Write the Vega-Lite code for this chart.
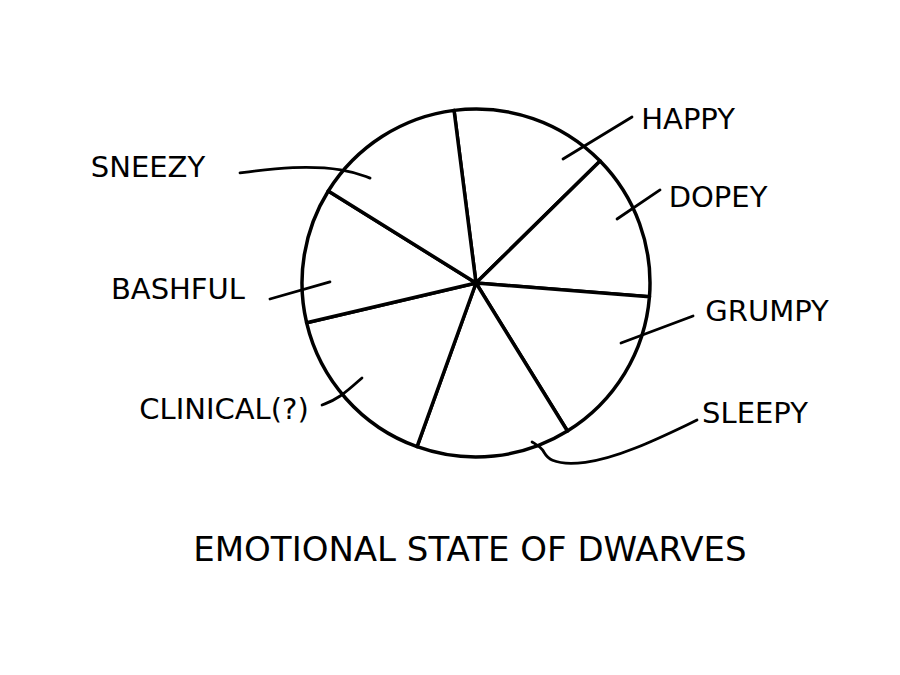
{
  "$schema": "https://vega.github.io/schema/vega-lite/v6.json",
  "width": 900,
  "height": 675,
  "autosize": "none",
  "padding": 0,
  "background": "white",
  "config": {"view": {"stroke": null}},
  "datasets": {
    "dwarves": [
      {"dwarf": "HAPPY", "order": 1, "share": 52.75, "lx": 1.233, "ly": 0.948},
      {"dwarf": "DOPEY", "order": 2, "share": 49.0, "lx": 1.407, "ly": 0.494},
      {"dwarf": "GRUMPY", "order": 3, "share": 53.8, "lx": 1.692, "ly": -0.169},
      {"dwarf": "SLEEPY", "order": 4, "share": 51.5, "lx": 1.622, "ly": -0.762},
      {"dwarf": "CLINICAL(?)", "order": 5, "share": 57.0, "lx": -1.465, "ly": -0.738},
      {"dwarf": "BASHFUL", "order": 6, "share": 45.1, "lx": -1.733, "ly": -0.041},
      {"dwarf": "SNEEZY", "order": 7, "share": 50.85, "lx": -1.907, "ly": 0.669}
    ],
    "leaders": [
      {"dwarf": "HAPPY", "seq": 1, "x": 0.506, "y": 0.721},
      {"dwarf": "HAPPY", "seq": 2, "x": 0.907, "y": 0.965},
      {"dwarf": "DOPEY", "seq": 1, "x": 0.820, "y": 0.372},
      {"dwarf": "DOPEY", "seq": 2, "x": 1.070, "y": 0.541},
      {"dwarf": "GRUMPY", "seq": 1, "x": 0.843, "y": -0.349},
      {"dwarf": "GRUMPY", "seq": 2, "x": 1.262, "y": -0.192},
      {"dwarf": "SLEEPY", "seq": 1, "x": 0.326, "y": -0.924},
      {"dwarf": "SLEEPY", "seq": 2, "x": 0.395, "y": -0.965},
      {"dwarf": "SLEEPY", "seq": 3, "x": 0.413, "y": -1.040},
      {"dwarf": "SLEEPY", "seq": 4, "x": 0.622, "y": -1.060},
      {"dwarf": "SLEEPY", "seq": 5, "x": 0.913, "y": -0.975},
      {"dwarf": "SLEEPY", "seq": 6, "x": 1.285, "y": -0.797},
      {"dwarf": "CLINICAL(?)", "seq": 1, "x": -0.663, "y": -0.552},
      {"dwarf": "CLINICAL(?)", "seq": 2, "x": -0.795, "y": -0.670},
      {"dwarf": "CLINICAL(?)", "seq": 3, "x": -0.895, "y": -0.709},
      {"dwarf": "BASHFUL", "seq": 1, "x": -0.849, "y": 0.006},
      {"dwarf": "BASHFUL", "seq": 2, "x": -1.198, "y": -0.093},
      {"dwarf": "SNEEZY", "seq": 1, "x": -0.616, "y": 0.610},
      {"dwarf": "SNEEZY", "seq": 2, "x": -0.760, "y": 0.665},
      {"dwarf": "SNEEZY", "seq": 3, "x": -1.064, "y": 0.680},
      {"dwarf": "SNEEZY", "seq": 4, "x": -1.372, "y": 0.640}
    ],
    "caption": [
      {"text": "EMOTIONAL STATE OF DWARVES", "x": -0.035, "y": -1.558}
    ]
  },
  "layer": [
    {
      "data": {"name": "dwarves"},
      "mark": {"type": "arc", "outerRadius": 174, "fill": "white", "stroke": "black", "strokeWidth": 3.5, "strokeJoin": "round"},
      "encoding": {
        "x": {"datum": 0, "type": "quantitative", "scale": {"domain": [-2.7674, 2.4651], "nice": false, "zero": false}, "axis": null},
        "y": {"datum": 0, "type": "quantitative", "scale": {"domain": [-2.2791, 1.6453], "nice": false, "zero": false}, "axis": null},
        "theta": {"field": "share", "type": "quantitative", "stack": true, "scale": {"range": [-0.1265, 6.1567]}},
        "order": {"field": "order", "type": "quantitative"}
      }
    },
    {
      "data": {"name": "leaders"},
      "mark": {"type": "line", "interpolate": "basis", "color": "black", "strokeWidth": 2.8, "strokeCap": "round"},
      "encoding": {
        "x": {"field": "x", "type": "quantitative", "axis": null},
        "y": {"field": "y", "type": "quantitative", "axis": null},
        "detail": {"field": "dwarf"},
        "order": {"field": "seq", "type": "quantitative"}
      }
    },
    {
      "data": {"name": "dwarves"},
      "mark": {"type": "text", "font": "DejaVu Sans", "fontSize": 29, "align": "center", "baseline": "middle", "color": "black"},
      "encoding": {
        "x": {"field": "lx", "type": "quantitative", "axis": null},
        "y": {"field": "ly", "type": "quantitative", "axis": null},
        "text": {"field": "dwarf"}
      }
    },
    {
      "data": {"name": "caption"},
      "mark": {"type": "text", "font": "DejaVu Sans", "fontSize": 34, "align": "center", "baseline": "middle", "color": "black"},
      "encoding": {
        "x": {"field": "x", "type": "quantitative", "axis": null},
        "y": {"field": "y", "type": "quantitative", "axis": null},
        "text": {"field": "text"}
      }
    }
  ]
}
